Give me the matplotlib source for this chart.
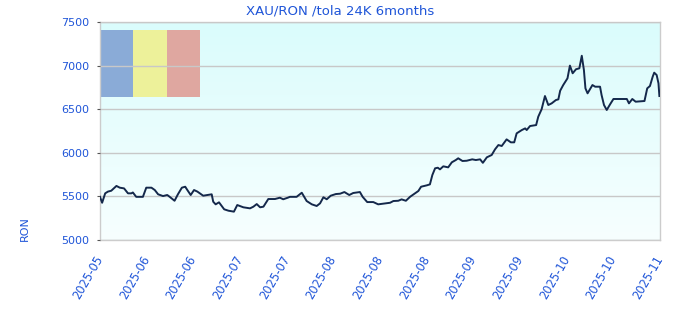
import numpy as np
import matplotlib
matplotlib.use("Agg")
import matplotlib.pyplot as plt
from matplotlib.patches import Rectangle
from matplotlib.transforms import ScaledTranslation

# day offset from start of the window and price (RON per tola, 24K)
days = [0.0, 0.7, 1.7, 2.6, 3.7, 5.4, 6.5, 7.9, 9.2, 10.3, 10.8, 11.9, 14.1, 15.2,
        16.9, 18.0, 19.1, 20.7, 22.1, 22.9, 24.5, 25.6, 26.9, 28.0, 28.7, 29.8,
        30.9, 32.0, 33.9, 36.7, 37.2, 38.0, 39.1, 40.8, 42.2, 44.0, 45.1, 47.1,
        49.3, 50.4, 51.5, 52.6, 53.7, 55.3, 57.5, 59.1, 60.2, 61.7, 62.4, 64.6,
        66.3, 67.9, 69.6, 71.2, 72.3, 73.4, 74.5, 75.8, 77.5, 78.9, 80.3, 81.9,
        83.2, 85.4, 86.3, 87.8, 89.8, 91.4, 93.7, 95.3, 96.4, 98.0, 99.1, 100.5,
        101.9, 103.5, 104.6, 105.5, 107.4, 108.4, 109.2, 110.1, 111.0, 111.7,
        112.8, 114.4, 115.6, 116.9, 117.7, 119.1, 120.5, 122.3, 123.5, 124.9,
        125.8, 127.1, 128.7, 129.8, 130.9, 132.0, 133.6, 135.0, 136.1, 136.9,
        138.6, 139.7, 140.2, 141.3, 143.3, 144.0, 145.1, 146.2, 147.3, 148.4,
        149.8, 150.6, 151.2, 152.2, 153.6, 154.4, 155.3, 156.4, 157.5, 158.3,
        159.0, 159.5, 160.2, 161.8, 162.7, 164.3, 164.8, 165.6, 166.5, 167.6,
        168.7, 173.1, 173.8, 174.9, 176.0, 178.9, 179.8, 180.7, 181.6, 182.1,
        182.9, 183.5, 183.8]
prices = [5495, 5427, 5535, 5555, 5565, 5620, 5600, 5592, 5535, 5535, 5545, 5495,
          5495, 5600, 5600, 5573, 5524, 5504, 5516, 5495, 5450, 5524, 5600, 5611,
          5573, 5516, 5573, 5555, 5508, 5524, 5439, 5409, 5432, 5352, 5336, 5325,
          5401, 5375, 5363, 5382, 5412, 5375, 5382, 5470, 5470, 5485, 5467, 5485,
          5495, 5495, 5542, 5447, 5409, 5390, 5420, 5490, 5467, 5508, 5527, 5531,
          5550, 5516, 5539, 5550, 5495, 5435, 5435, 5409, 5420, 5427, 5447, 5450,
          5466, 5450, 5496, 5535, 5562, 5611, 5627, 5638, 5745, 5822, 5829, 5810,
          5845, 5833, 5891, 5917, 5937, 5906, 5909, 5925, 5917, 5925, 5885, 5948,
          5975, 6040, 6089, 6078, 6154, 6120, 6120, 6223, 6261, 6280, 6261, 6307,
          6318, 6414, 6499, 6651, 6548, 6567, 6605, 6613, 6712, 6777, 6854, 7000,
          6912, 6958, 6969, 7113, 6949, 6739, 6682, 6777, 6758, 6758, 6663, 6548,
          6491, 6556, 6617, 6617, 6567, 6617, 6586, 6594, 6739, 6766, 6873, 6919,
          6892, 6797, 6651]

x_labels = ["2025-05", "2025-06", "2025-06", "2025-07", "2025-07", "2025-08",
            "2025-08", "2025-08", "2025-09", "2025-09", "2025-10", "2025-10",
            "2025-11"]
span = 184
y_ticks = [5000, 5500, 6000, 6500, 7000, 7500]

BLUE = "#1f55d8"

fig = plt.figure(figsize=(6.8, 3.2), dpi=100)
ax = fig.add_axes([100 / 680, 80 / 320, 560 / 680, 218 / 320])

# light cyan gradient background
grad = np.linspace(0, 1, 256).reshape(-1, 1)
bg = matplotlib.colors.LinearSegmentedColormap.from_list("bg", ["#f7ffff", "#dafcfc"])
ax.imshow(grad, cmap=bg, aspect="auto", extent=[0, 1, 0, 1],
          transform=ax.transAxes, origin="lower", zorder=0)

# flag decoration at top-left
for i, c in enumerate(["#8aabd7", "#edf19a", "#dfa7a0"]):
    ax.add_patch(Rectangle((i * 0.0595, 0.656), 0.0595, 0.307, transform=ax.transAxes,
                           facecolor=c, edgecolor="none", zorder=1))

ax.plot(days, prices, color="#14284b", linewidth=1.4, zorder=3)

ax.set_xlim(0, span)
ax.set_ylim(5000, 7500)
ax.set_yticks(y_ticks)
ax.set_yticklabels([str(v) for v in y_ticks], color=BLUE, fontsize=8)
ax.set_xticks(np.linspace(0, span, len(x_labels)))
ax.set_xticklabels(x_labels, rotation=60, ha="right", va="center",
                   rotation_mode="anchor", color=BLUE, fontsize=8.3)
shift = ScaledTranslation(-4 / 100, -1 / 100, fig.dpi_scale_trans)
for lbl in ax.get_xticklabels():
    lbl.set_transform(lbl.get_transform() + shift)
ax.tick_params(axis="y", length=2, color="#555555", pad=6)
ax.tick_params(axis="x", length=0, pad=12)
ax.grid(axis="y", color="#c8c8c8", linewidth=1, zorder=2)
ax.set_axisbelow(False)
for s in ax.spines.values():
    s.set_color("#cccccc")
    s.set_linewidth(1)
    s.set_zorder(2)

fig.text(0.5, 1 - 11 / 320, "XAU/RON /tola 24K 6months", ha="center", va="center",
         color=BLUE, fontsize=9.5)
fig.text(25 / 680, 1 - 229 / 320, "RON", rotation=90, ha="center", va="center",
         color=BLUE, fontsize=8)

fig.savefig("out.png", dpi=100)
